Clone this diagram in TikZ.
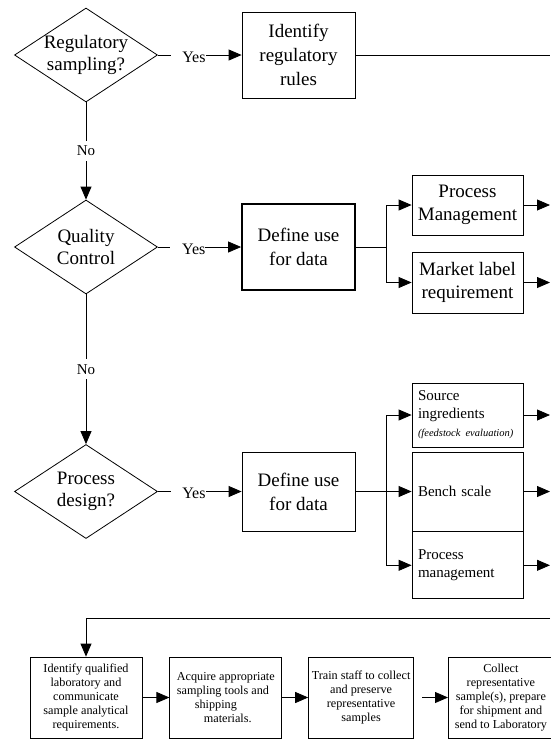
\documentclass[tikz,border=0pt]{standalone}
\usepackage{fontspec}
\setmainfont{Liberation Serif}
\usetikzlibrary{positioning,shapes.geometric,arrows.meta}

\begin{document}
\begin{tikzpicture}[
x=1pt, y=-1pt, line width=0.8pt,
>={Triangle[length=13pt,width=11pt]},
decisionnode/.style={diamond, draw, aspect=1.55, inner sep=-1pt, minimum width=143pt, minimum height=94pt, align=center, font=\fontsize{19}{22}\selectfont},
squarednode/.style={rectangle, draw, align=center, minimum width=113pt, minimum height=86pt, font=\fontsize{19}{24}\selectfont},
sidenode/.style={rectangle, draw, align=center, minimum width=111pt, minimum height=60pt, font=\fontsize{19}{23}\selectfont},
listnode/.style={rectangle, draw, align=left, text width=99pt, inner xsep=6pt, minimum width=111pt, font=\fontsize{15}{18}\selectfont},
labnode/.style={rectangle, draw, align=center, inner xsep=1pt, minimum width=105pt, minimum height=81pt, font=\fontsize{12.2}{14}\selectfont},
yesnode/.style={pos=0.36, fill=white, inner xsep=0pt, inner ysep=2pt, text width=35pt, align=right, yshift=-2pt, font=\fontsize{16}{16}\selectfont},
nonode/.style={midway, fill=white, inner sep=5pt, font=\fontsize{15}{15}\selectfont},
]
\useasboundingbox (0,0) rectangle (550,740);

%Nodes
\node[decisionnode]     (regsampling)   at (86,55)       {Regulatory\\sampling?};
\node[squarednode]      (regrules)      at (298.5,55)    {Identify\\regulatory\\rules};
\node[decisionnode]     (qualcontrol)   at (86,247)      {Quality\\Control};
\node[squarednode, line width=1.8pt] (datause) at (298.5,247) {Define use\\for data};
\node[sidenode]         (procmgmt)      at (467.5,205)   {Process\\Management};
\node[sidenode, minimum height=61pt] (marketlabel) at (467.5,282.5) {Market label\\requirement};
\node[decisionnode]     (procdesign)    at (86,491.5)    {Process\\design?};
\node[squarednode, minimum height=79pt] (designuse) at (298.5,491.5) {Define use\\for data};
\node[listnode, minimum height=64pt] (source) at (467.5,415) {Source\\ingredients\\{\fontsize{10.5}{13}\selectfont\itshape (feedstock evaluation)}};
\node[listnode, minimum height=79pt] (bench) at (467.5,491.5) {Bench scale};
\node[listnode, minimum height=67pt] (benchmgmt) [below=0pt of bench] {Process\\management};

\node[labnode, minimum width=112pt] (qualifylab) at (86,697.5) {Identify qualified\\laboratory and\\communicate\\sample analytical\\requirements.};
\node[labnode, minimum width=112pt, align=left] (tools) [right=27pt of qualifylab] {Acquire appropriate\\sampling tools and\\\hspace*{18pt}shipping\\\hspace*{27pt}materials.};
\node[labnode]          (trainstaff)    [right=26pt of tools]      {Train staff to collect\\and preserve\\representative\\samples};
\node[labnode]          (collect)       [right=34pt of trainstaff] {Collect\\representative\\sample(s), prepare\\for shipment and\\send to Laboratory};

\coordinate (rim) at (550,0);
\coordinate (loopstart) at (550,618);
\coordinate (forkqc) at (386,247);
\coordinate (forkpd) at (386,491.5);

%Lines
\draw[->] (regsampling.east) -- node[yesnode] {Yes} (regrules.west);
\draw[->] (qualcontrol.east) -- node[yesnode] {Yes} (datause.west);
\draw[->] (procdesign.east) -- node[yesnode] {Yes} (designuse.west);
\draw[->] (regsampling.south) -- node[nonode] {No} (qualcontrol.north);
\draw[->] (qualcontrol.south) -- node[nonode] {No} (procdesign.north);

\draw (regrules.east) -- (regrules.east -| rim);
\draw (datause.east) -- (forkqc);
\draw[->] (forkqc) |- (procmgmt.west);
\draw[->] (forkqc) |- (marketlabel.west);
\draw (designuse.east) -- (forkpd);
\draw[->] (forkpd) |- (source.west);
\draw[->] (forkpd) |- (bench.west);
\draw[->] (forkpd) |- (benchmgmt.west);

\draw[->] (procmgmt.east) -- (procmgmt.east -| rim);
\draw[->] (marketlabel.east) -- (marketlabel.east -| rim);
\draw[->] (source.east) -- (source.east -| rim);
\draw[->] (bench.east) -- (bench.east -| rim);
\draw[->] (benchmgmt.east) -- (benchmgmt.east -| rim);

\draw[->] (loopstart) -| (qualifylab.north);
\draw[->] (qualifylab) -- (tools);
\draw[->] (tools) -- (trainstaff);
\draw[->, shorten <=8pt] (trainstaff) -- (collect);

\end{tikzpicture}
\end{document}
